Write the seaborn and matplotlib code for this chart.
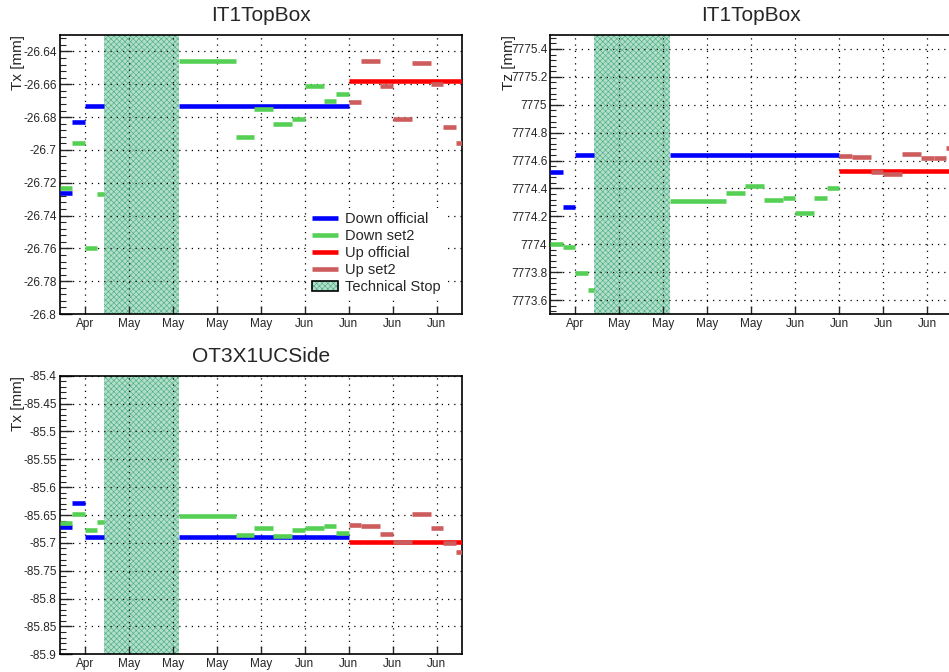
import matplotlib
matplotlib.use("Agg")
import matplotlib.pyplot as plt
import matplotlib.dates as mdates
from matplotlib.lines import Line2D
from matplotlib.patches import Patch
from matplotlib.ticker import MultipleLocator, AutoMinorLocator, FuncFormatter
import numpy as np
import pandas as pd
import seaborn as sns

# ---- data ----
titles = ["IT1TopBox", "IT1TopBox", "OT3X1UCSide"]
ylabels = ["Tx [mm]", "Tz [mm]", "Tx [mm]"]
series_names = ["Down official", "Down set2", "Up official", "Up set2"]

down_off_start = ["2012-04-23", "2012-04-25", "2012-04-27", "2012-05-12"]
down_off_end = ["2012-04-25", "2012-04-27", "2012-04-30", "2012-06-08"]
down_set2_start = ["2012-04-23", "2012-04-25", "2012-04-27", "2012-04-29", "2012-05-12", "2012-05-21",
                   "2012-05-24", "2012-05-27", "2012-05-30", "2012-06-01", "2012-06-04", "2012-06-06"]
down_set2_end = ["2012-04-25", "2012-04-27", "2012-04-29", "2012-04-30", "2012-05-21", "2012-05-24",
                 "2012-05-27", "2012-05-30", "2012-06-01", "2012-06-04", "2012-06-06", "2012-06-08"]
up_off_start = ["2012-06-08"]
up_off_end = ["2012-06-27"]
up_set2_start = ["2012-06-08", "2012-06-10", "2012-06-13", "2012-06-15",
                 "2012-06-18", "2012-06-21", "2012-06-23", "2012-06-25"]
up_set2_end = ["2012-06-10", "2012-06-13", "2012-06-15", "2012-06-18",
               "2012-06-21", "2012-06-23", "2012-06-25", "2012-06-27"]

tech_stop = ["2012-04-30", "2012-05-12"]

it1_tx_down_off = [-26.726, -26.683, -26.673, -26.673]
it1_tx_down_set2 = [-26.723, -26.696, -26.760, -26.727, -26.646, -26.692,
                    -26.675, -26.684, -26.681, -26.661, -26.670, -26.666]
it1_tx_up_off = [-26.658]
it1_tx_up_set2 = [-26.671, -26.646, -26.661, -26.681, -26.647, -26.660, -26.686, -26.696]

it1_tz_down_off = [7774.517, 7774.27, 7774.64, 7774.64]
it1_tz_down_set2 = [7774.003, 7773.977, 7773.795, 7773.672, 7774.308, 7774.366,
                    7774.417, 7774.316, 7774.333, 7774.222, 7774.333, 7774.40]
it1_tz_up_off = [7774.522]
it1_tz_up_set2 = [7774.633, 7774.626, 7774.517, 7774.503, 7774.65, 7774.62, 7774.62, 7774.69]

ot_tx_down_off = [-85.671, -85.629, -85.690, -85.690]
ot_tx_down_set2 = [-85.665, -85.648, -85.677, -85.662, -85.652, -85.686,
                   -85.674, -85.688, -85.677, -85.674, -85.669, -85.683]
ot_tx_up_off = [-85.698]
ot_tx_up_set2 = [-85.668, -85.669, -85.684, -85.698, -85.649, -85.674, -85.701, -85.716]

panel_values = [
    [it1_tx_down_off, it1_tx_down_set2, it1_tx_up_off, it1_tx_up_set2],
    [it1_tz_down_off, it1_tz_down_set2, it1_tz_up_off, it1_tz_up_set2],
    [ot_tx_down_off, ot_tx_down_set2, ot_tx_up_off, ot_tx_up_set2],
]
series_starts = [down_off_start, down_set2_start, up_off_start, up_set2_start]
series_ends = [down_off_end, down_set2_end, up_off_end, up_set2_end]

# ---- styling ----
colors = {"Down official": "#0000ff", "Down set2": "#55d055",
          "Up official": "#ff0000", "Up set2": "#cd5c5c"}
ylims = [(-26.8, -26.63), (7773.5, 7775.5), (-85.9, -85.4)]
ysteps = [0.02, 0.2, 0.05]
xlim = (pd.Timestamp("2012-04-23"), pd.Timestamp("2012-06-26"))
# axes rectangles in figure fractions (top-right one runs off the canvas like the original)
rects = [[0.0627, 0.5327, 0.4241, 0.4152],
         [0.5796, 0.5327, 0.4241, 0.4152],
         [0.0627, 0.0263, 0.4241, 0.4146]]
label_x = -0.085
stop_face = "#b3dfca"
stop_hatch = "#4fae85"

sns.set_style("ticks")
plt.rcParams["font.family"] = ["Liberation Sans", "DejaVu Sans"]
plt.rcParams["hatch.linewidth"] = 0.45


def build_frame(values):
    rows = []
    seg = 0
    for name, starts, ends, vals in zip(series_names, series_starts, series_ends, values):
        for s, e, v in zip(starts, ends, vals):
            rows.append((name, seg, pd.Timestamp(s), v))
            rows.append((name, seg, pd.Timestamp(e), v))
            seg += 1
    return pd.DataFrame(rows, columns=["series", "seg", "date", "value"])


def tick_fmt(v, pos):
    return f"{v:.2f}".rstrip("0").rstrip(".")


fig = plt.figure(figsize=(9.49, 6.72), dpi=100)

for i in range(3):
    ax = fig.add_axes(rects[i])
    df = build_frame(panel_values[i])

    # technical stop band sits under the grid so the dotted lines show through
    ax.axvspan(pd.Timestamp(tech_stop[0]), pd.Timestamp(tech_stop[1]), facecolor=stop_face,
               edgecolor=stop_hatch, hatch="xxxxxx", lw=0, zorder=0.2)

    sns.lineplot(data=df, x="date", y="value", hue="series", units="seg", estimator=None,
                 hue_order=series_names, palette=colors, lw=3.3, legend=False,
                 solid_capstyle="butt", ax=ax, zorder=3)

    ax.set_xlim(xlim)
    ax.set_ylim(ylims[i])
    ax.xaxis.set_major_locator(mdates.WeekdayLocator(byweekday=mdates.FR))
    ax.xaxis.set_major_formatter(mdates.DateFormatter("%b"))
    ax.yaxis.set_major_locator(MultipleLocator(ysteps[i]))
    ax.yaxis.set_minor_locator(AutoMinorLocator(5))
    ax.yaxis.set_major_formatter(FuncFormatter(tick_fmt))

    ax.grid(True, color="black", linestyle=(0, (1, 4)), lw=0.9, zorder=0.5)
    ax.tick_params(axis="y", which="major", direction="in", length=8.5, width=1, labelsize=8.5, pad=2)
    ax.tick_params(axis="y", which="minor", direction="in", length=4.3, width=0.8)
    ax.tick_params(axis="x", which="major", direction="in", length=5.5, width=1, labelsize=8.5, pad=3)
    for sp in ax.spines.values():
        sp.set_visible(True)
        sp.set_linewidth(1.2)
        sp.set_color("black")

    ax.set_xlabel("")
    ax.set_ylabel(ylabels[i], fontsize=11, loc="top")
    ax.yaxis.set_label_coords(label_x, 1.0)
    ax.set_title(titles[i], fontsize=15, pad=10)

    if i == 0:
        handles = [Line2D([0], [0], color=colors[n], lw=3.3, solid_capstyle="butt") for n in series_names]
        stop_handle = (Patch(facecolor=stop_face, edgecolor=stop_hatch, hatch="xxxxxx", lw=0),
                       Patch(facecolor="none", edgecolor="black", lw=1.2))
        handles.append(stop_handle)
        leg = ax.legend(handles, series_names + ["Technical Stop"], loc="lower right",
                        bbox_to_anchor=(0.975, 0.03), frameon=True, fontsize=10.5,
                        labelspacing=0.2, handlelength=1.8, handletextpad=0.45, borderpad=0.3,
                        fancybox=False, framealpha=1)
        leg.get_frame().set_edgecolor("none")
        leg.get_frame().set_facecolor("white")

fig.savefig("out.png", dpi=100)
